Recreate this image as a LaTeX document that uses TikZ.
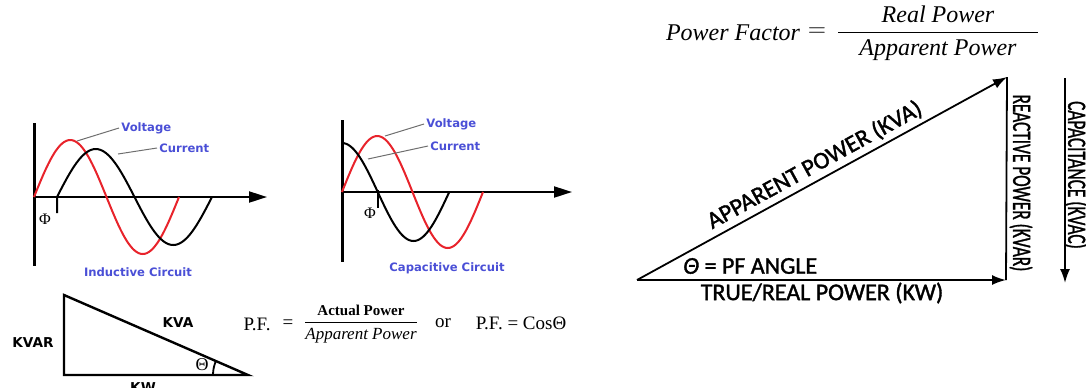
\documentclass[tikz,border=0pt]{standalone}
\usepackage{amsmath}
\usepackage{fontspec}
\setmainfont{Liberation Serif}
\setsansfont{DejaVu Sans}
\newfontfamily\calfont[FakeBold=1.5]{Carlito}
\usepackage{tikz}
\usetikzlibrary{arrows.meta,positioning}
\definecolor{wavered}{HTML}{E8232B}
\definecolor{labelblue}{HTML}{4A4FD6}
\definecolor{leadgray}{HTML}{6E6E6E}

\begin{document}
\begin{tikzpicture}[x=0.5pt,y=-0.5pt,>=Latex,font=\small]

\tikzset{
yaxis/.style={line width=1.5pt},
xaxis/.style={line width=1pt,-{Triangle[length=9pt,width=5.5pt]}},
redwave/.style={line width=1pt,color=wavered},
blackwave/.style={line width=1pt},
lead/.style={line width=0.5pt,color=leadgray},
wlabel/.style={font=\fontsize{5.8}{7}\selectfont\sffamily\bfseries,text=labelblue,inner sep=1pt},
tlabel/.style={font=\fontsize{6.8}{8}\selectfont\sffamily\bfseries,inner sep=1pt},
pftext/.style={font=\fontsize{9.5}{11}\selectfont,inner sep=1pt},
big/.style={font=\fontsize{12}{14}\selectfont\calfont,inner sep=0pt},
vec/.style={line width=0.9pt,-{Latex[length=7pt,width=5pt]}}
}

\useasboundingbox (0,0) rectangle (1086,387);

\coordinate (itop) at (34,123);
\coordinate (ibot) at (34,266);
\coordinate (iorigin) at (34,197);
\coordinate (iend) at (267,197);
\coordinate (itick) at (57,213);
\coordinate (ivoltpt) at (77,141);
\coordinate (icurpt) at (118,154);
\node[wlabel,anchor=west] (ivolt) at (119,128) {Voltage};
\node[wlabel,anchor=west] (icur) at (157,148) {Current};
\node[font=\fontsize{8}{9}\selectfont,inner sep=0pt] (iphi) at (45,219) {Φ};
\node[wlabel] (ititle) at (138,272) {Inductive Circuit};

\draw[yaxis] (itop) -- (ibot);
\draw[xaxis] (iorigin) -- (iend);
\draw[redwave] plot[domain=0:360,samples=73,smooth] ({34+\x/360*145},{197-57*sin(\x)});
\draw[blackwave] (itick) -- plot[domain=0:360,samples=73,smooth] ({57+\x/360*155},{197-48*sin(\x)});
\draw[lead] (ivoltpt) -- (ivolt.west);
\draw[lead] (icurpt) -- (icur.west);

\coordinate (ctop) at (342,120);
\coordinate (cbot) at (342,262);
\coordinate (corigin) at (342,192);
\coordinate (cend) at (572,192);
\coordinate (cticka) at (378,190);
\coordinate (ctickb) at (378,208);
\coordinate (cvoltpt) at (385,136);
\coordinate (ccurpt) at (368,159);
\node[wlabel,anchor=west] (cvolt) at (424,124) {Voltage};
\node[wlabel,anchor=west] (ccur) at (428,146) {Current};
\node[font=\fontsize{8}{9}\selectfont,inner sep=0pt] (cphi) at (370,213) {Φ};
\node[wlabel] (ctitle) at (447,268) {Capacitive Circuit};

\draw[yaxis] (ctop) -- (cbot);
\draw[xaxis] (corigin) -- (cend);
\draw[redwave] plot[domain=0:360,samples=73,smooth] ({342+\x/360*141},{192-56*sin(\x)});
\draw[blackwave] plot[domain=0:270,samples=55,smooth] ({342+\x/360*143},{192-49*cos(\x)});
\draw[blackwave] (cticka) -- (ctickb);
\draw[lead] (cvoltpt) -- (cvolt.west);
\draw[lead] (ccurpt) -- (ccur.west);

\coordinate (ta) at (64,295);
\coordinate (tb) at (64,375);
\coordinate (tc) at (248,375);
\draw[line width=1.2pt,line join=miter] (ta) -- (tb) -- (tc) -- cycle;
\draw[line width=0.9pt] (tc) ++(180:35) arc[start angle=180,end angle=203.5,radius=35];
\node[tlabel] (kvar) at (33,343) {KVAR};
\node[tlabel] (kva) at (178,323) {KVA};
\node[tlabel] (kw) at (143,388) {KW};
\node[font=\fontsize{9}{10}\selectfont,inner sep=0pt] (theta) at (202,365) {Θ};

\node[pftext] (pfa) at (257,324) {P.F.};
\node[pftext] (pfeq) at (288,324) {=};
\node[pftext] (pffrac) at (361,324) {$\dfrac{\text{\fontsize{7.5}{8}\selectfont\bfseries Actual Power}}{\text{\fontsize{8.5}{9}\selectfont\itshape Apparent Power}}$};
\node[pftext] (pfor) at (443,323) {or};
\node[pftext] (pfcos) at (521,323) {P.F. = CosΘ};

\node[font=\fontsize{12}{14}\selectfont\itshape] (pfname) at (733,33) {Power Factor};
\node[font=\fontsize{12}{14}\selectfont] (pfsign) at (817,32) {$=$};
\node[font=\fontsize{12}{14}\selectfont] (pfratio) at (938,33) {$\dfrac{\textit{Real Power}}{\makebox[100pt]{\textit{Apparent Power}}}$};

\coordinate (po) at (637,280);
\coordinate (pright) at (1006,280);
\coordinate (papex) at (1007,77);
\coordinate (captop) at (1065,78);
\coordinate (capbot) at (1065,283);
\draw[vec] (po) -- (pright);
\draw[line width=0.9pt] (pright) -- (papex);
\draw[vec] (po) -- (papex) node[midway,sloped,above=2pt,big] (kvalabel) {APPARENT POWER (KVA)};
\draw[vec] (captop) -- (capbot);
\node[big,anchor=west] (pfangle) at (683,266) {\textit{Θ} = PF ANGLE};
\node[big] (kwlabel) at (822,293) {TRUE/REAL POWER (KW)};
\node[big,rotate=-90] (kvarlabel) at (1021,183) {\scalebox{0.72}[1.1]{REACTIVE POWER (KVAR)}};
\node[big,rotate=-90] (kvaclabel) at (1076,175) {\scalebox{0.72}[1.1]{CAPACITANCE (KVAC)}};

\end{tikzpicture}
\end{document}
